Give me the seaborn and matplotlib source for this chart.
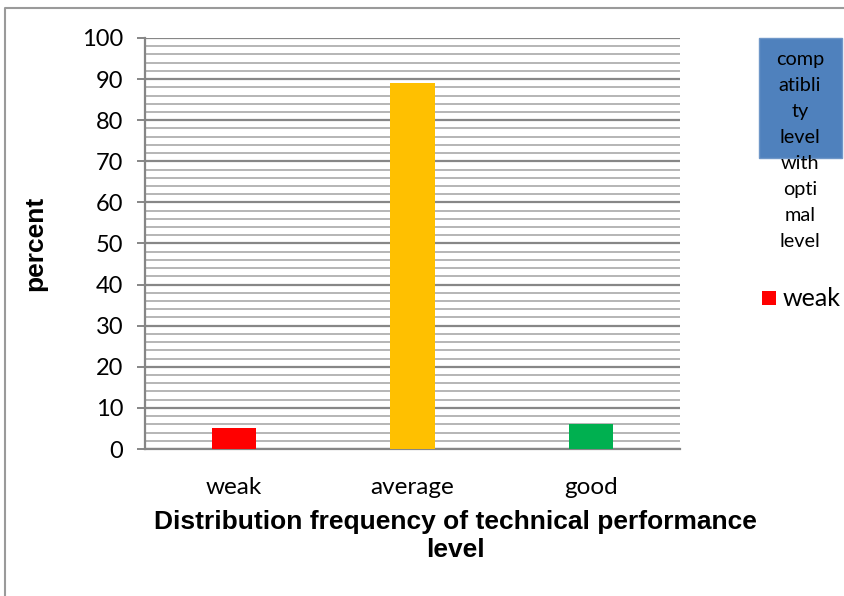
import matplotlib
matplotlib.use("Agg")
import matplotlib.pyplot as plt
from matplotlib.patches import Rectangle
from matplotlib.ticker import MultipleLocator
import seaborn as sns
import pandas as pd

categories = ["weak", "average", "good"]
percent = [5, 89, 6]
bar_colors = ["#FF0000", "#FFC000", "#00B050"]
legend_title_lines = ["comp", "atibli", "ty", "level", "with", "opti", "mal", "level"]
legend_entry = "weak"
y_label = "percent"
x_label = "Distribution frequency of technical performance\nlevel"

sns.set_theme(style="white")
plt.rcParams["font.family"] = ["Lato", "DejaVu Sans"]

df = pd.DataFrame({"level": categories, "percent": percent})

fig = plt.figure(figsize=(8.45, 5.96), dpi=100)
ax = fig.add_axes([145 / 845, 1 - 449 / 596, 535 / 845, 411 / 596])

sns.barplot(data=df, x="level", y="percent", hue="level", palette=bar_colors,
            width=0.25, legend=False, ax=ax, saturation=1, zorder=3,
            edgecolor="none", linewidth=0)

ax.set_ylim(0, 100)
ax.set_xlim(-0.5, 2.5)
ax.yaxis.set_major_locator(MultipleLocator(10))
ax.yaxis.set_minor_locator(MultipleLocator(2))
ax.grid(which="major", axis="y", color="#878787", linewidth=1.6, zorder=0)
ax.grid(which="minor", axis="y", color="#b5b5b5", linewidth=1.4, zorder=0)
ax.set_axisbelow(True)

for side in ["top", "right"]:
    ax.spines[side].set_visible(False)
for side in ["left", "bottom"]:
    ax.spines[side].set_color("#868686")
    ax.spines[side].set_linewidth(1.6)

ax.tick_params(axis="y", which="major", left=True, length=5.8, width=1.4,
               color="#868686", labelsize=17, pad=10, labelcolor="black")
ax.tick_params(axis="y", which="minor", left=False)
ax.tick_params(axis="x", bottom=False, labelsize=17.5, pad=14, labelcolor="black")

ax.set_ylabel(y_label, family="Liberation Sans", fontweight="bold", fontsize=19,
              labelpad=25, color="black")
ax.set_xlabel(x_label, family="Liberation Sans", fontweight="bold", fontsize=19,
              linespacing=1.2, color="black")
ax.xaxis.set_label_coords(0.581, -0.148)

# legend: blue title box with wrapped title, then the series entry
fig.patches.append(Rectangle((759 / 845, 1 - 158 / 596), 83 / 845, 120 / 596,
                             transform=fig.transFigure, facecolor="#4F81BD",
                             edgecolor="#6F97C8", linewidth=1, zorder=1))
for i, line in enumerate(legend_title_lines):
    fig.text(800 / 845, 1 - (60 + i * 25.9) / 596, line, ha="center", va="center",
             fontsize=14.3, color="black", zorder=2)
fig.patches.append(Rectangle((762 / 845, 1 - 305 / 596), 14 / 845, 14 / 596,
                             transform=fig.transFigure, facecolor=bar_colors[0],
                             edgecolor="none", zorder=2))
fig.text(783 / 845, 1 - 298 / 596, legend_entry, ha="left", va="center",
         fontsize=18, color="black")

# outer chart frame
fig.add_artist(plt.Line2D([5 / 845, 5 / 845, 1], [0, 1 - 8 / 596, 1 - 8 / 596],
                          transform=fig.transFigure, color="#9a9a9a", linewidth=1.5))

fig.savefig("out.png", dpi=100, facecolor="white")
